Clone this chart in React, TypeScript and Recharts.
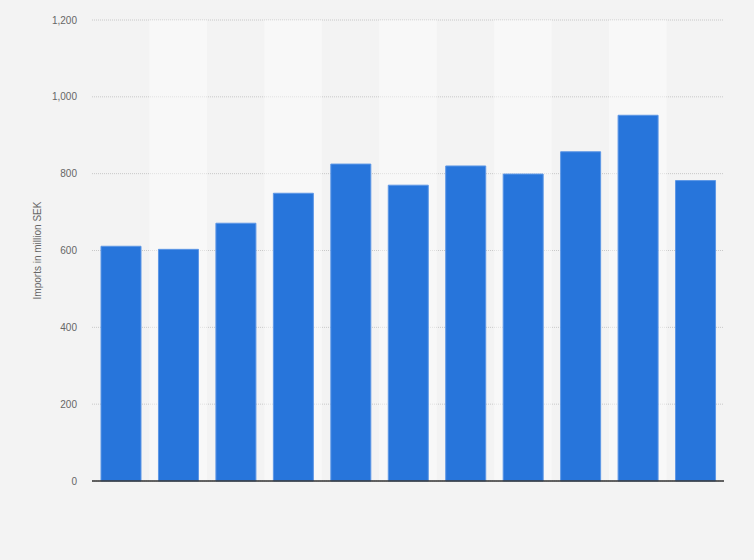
import { BarChart, Bar, XAxis, YAxis, CartesianGrid, ReferenceArea } from 'recharts';

const years = ['2010', '2011', '2012', '2013', '2014', '2015', '2016', '2017', '2018', '2019', '2020'];
const imports = [611, 603, 671, 749, 825, 770, 820, 799, 857, 952, 782];
const yTicks = [0, 200, 400, 600, 800, 1000, 1200];

const data = years.map((year, i) => ({ year, value: imports[i] }));
// every second column gets a lighter band
const lightBands = years.filter((_, i) => i % 2 === 1);

const font = 'Arial, "Liberation Sans", sans-serif';

export default function App() {
  return (
    <div style={{ position: 'absolute', left: 0, top: 0, width: 754, height: 560, background: '#f3f3f3', fontFamily: font }}>
      <BarChart width={754} height={560} data={data} margin={{ top: 20, right: 30, bottom: 78, left: 0 }}>
        <CartesianGrid vertical={false} stroke="#c8c8c8" strokeDasharray="1 1" />
        {lightBands.map(y => (
          <ReferenceArea key={y} x1={y} x2={y} fill="#ffffff" fillOpacity={0.45} stroke="none" />
        ))}
        <XAxis dataKey="year" height={1} tick={false} tickLine={false} axisLine={{ stroke: '#333', strokeWidth: 1.3 }} />
        <YAxis
          width={92}
          domain={[0, 1200]}
          ticks={yTicks}
          axisLine={false}
          tickLine={false}
          tickMargin={9}
          tick={{ fill: '#666', fontSize: 10, fontFamily: font }}
          tickFormatter={(v: number) => v.toLocaleString('en-US')}
          label={{ value: 'Imports in million SEK', angle: -90, position: 'center', dx: -9, fill: '#666', fontSize: 10, fontFamily: font }}
        />
        <Bar dataKey="value" fill="#2775db" stroke="#5d97e6" strokeWidth={1} barSize={40} isAnimationActive={false} />
      </BarChart>
    </div>
  );
}
